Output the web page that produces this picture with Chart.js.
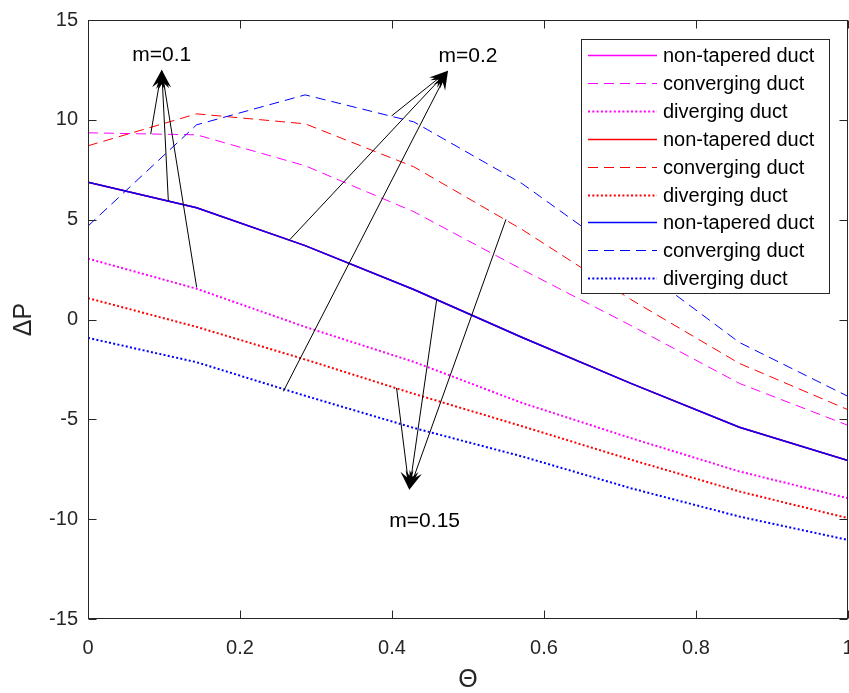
<!DOCTYPE html>
<html>
<head>
<meta charset="utf-8">
<script src="https://cdn.jsdelivr.net/npm/chart.js@4"></script>
<style>
html, body { margin: 0; padding: 0; background: #fff; }
#wrap { width: 849px; height: 693px; }
</style>
</head>
<body>
<div id="wrap"><canvas id="myChart"></canvas></div>
<script>
// x values (Theta) and y ticks
const theta = [0, 0.1429, 0.2857, 0.4286, 0.5714, 0.7143, 0.8571, 1];
const xTicks = [0, 0.2, 0.4, 0.6, 0.8, 1];
const yTicks = [-15, -10, -5, 0, 5, 10, 15];

// delta P, same for all m in the non-tapered case
const nonTapered = [6.88, 5.6, 3.7, 1.5, -0.9, -3.2, -5.4, -7.06];
// m = 0.1 (magenta), m = 0.15 (red), m = 0.2 (blue)
const convM01 = [9.35, 9.25, 7.7, 5.4, 2.5, -0.3, -3.2, -5.3];
const convM015 = [8.7, 10.3, 9.8, 7.65, 4.5, 1.0, -2.2, -4.52];
const convM02 = [4.68, 9.75, 11.25, 9.9, 6.8, 2.9, -1.15, -3.85];
const divM01 = [3.05, 1.54, -0.37, -2.12, -4.18, -5.94, -7.61, -8.95];
const divM015 = [1.07, -0.37, -2.0, -3.72, -5.35, -7.02, -8.61, -9.95];
const divM02 = [-0.92, -2.14, -3.82, -5.43, -6.86, -8.45, -9.87, -11.04];

// annotation arrows in data units: [label, labelX, labelY, tipX, tipY, tails]
const arrows = [
    ['m=0.1', 0.097, 13.25, 0.097, 12.51, [[0.0825, 9.28], [0.1057, 5.94], [0.143, 1.61]]],
    ['m=0.2', 0.50, 13.2, 0.4737, 12.46, [[0.3996, 10.2], [0.2658, 4.01], [0.257, -3.6]]],
    ['m=0.15', 0.443, -10.1, 0.4228, -8.53, [[0.406, -3.43], [0.4588, 1.0], [0.55, 5.02]]]
];

const magenta = '#ff00ff';
const red = '#ff0000';
const blue = '#0000ff';
const solid = [];
const dashed = [10, 6];
const dotted = [2, 2.3];

function pts(arr) {
    return arr.map((v, i) => ({ x: theta[i], y: v }));
}

function ds(label, arr, color, dash, width, order) {
    return {
        label: label,
        data: pts(arr),
        borderColor: color,
        backgroundColor: color,
        borderDash: dash,
        borderWidth: width,
        pointRadius: 0,
        tension: 0,
        order: order
    };
}

const datasets = [
    ds('non-tapered duct', nonTapered, magenta, solid, 1.5, 9),
    ds('converging duct', convM01, magenta, dashed, 1, 8),
    ds('diverging duct', divM01, magenta, dotted, 2, 7),
    ds('non-tapered duct', nonTapered, red, solid, 1.5, 6),
    ds('converging duct', convM015, red, dashed, 1, 5),
    ds('diverging duct', divM015, red, dotted, 2, 4),
    ds('non-tapered duct', nonTapered, blue, solid, 1.5, 3),
    ds('converging duct', convM02, blue, dashed, 1, 2),
    ds('diverging duct', divM02, blue, dotted, 2, 1)
];

const font = 'Liberation Sans, Arial, Helvetica, sans-serif';
const axisColor = '#262626';

function drawArrow(c, x1, y1, x2, y2) {
    const ang = Math.atan2(y2 - y1, x2 - x1);
    const ux = Math.cos(ang), uy = Math.sin(ang);
    const nx = -uy, ny = ux;
    const L = 19, W = 6.5, N = 12;
    c.beginPath();
    c.moveTo(x1, y1);
    c.lineTo(x2 - ux * N, y2 - uy * N);
    c.stroke();
    c.beginPath();
    c.moveTo(x2, y2);
    c.lineTo(x2 - ux * L + nx * W, y2 - uy * L + ny * W);
    c.lineTo(x2 - ux * N, y2 - uy * N);
    c.lineTo(x2 - ux * L - nx * W, y2 - uy * L - ny * W);
    c.closePath();
    c.fill();
}

const decor = {
    id: 'decor',
    afterDatasetsDraw(chart) {
        const c = chart.ctx;
        const xs = chart.scales.x, ys = chart.scales.y;
        const a = chart.chartArea;

        // arrows and m labels
        c.save();
        c.strokeStyle = '#000';
        c.fillStyle = '#000';
        c.lineWidth = 1;
        arrows.forEach(ar => {
            const tx = xs.getPixelForValue(ar[3]), ty = ys.getPixelForValue(ar[4]);
            ar[5].forEach(t => {
                drawArrow(c, xs.getPixelForValue(t[0]), ys.getPixelForValue(t[1]), tx, ty);
            });
            c.font = '21px ' + font;
            c.textAlign = 'center';
            c.textBaseline = 'middle';
            c.fillText(ar[0], xs.getPixelForValue(ar[1]), ys.getPixelForValue(ar[2]));
        });
        c.restore();

        // box and inward ticks
        c.save();
        c.strokeStyle = axisColor;
        c.lineWidth = 1;
        const L = Math.round(a.left) + 0.5, R = Math.round(a.right) - 0.5;
        const T = Math.round(a.top) + 0.5, B = Math.round(a.bottom) - 0.5;
        c.strokeRect(L, T, R - L, B - T);
        c.beginPath();
        xTicks.forEach(v => {
            const px = Math.round(xs.getPixelForValue(v)) + 0.5;
            c.moveTo(px, B); c.lineTo(px, B - 8);
            c.moveTo(px, T); c.lineTo(px, T + 8);
        });
        yTicks.forEach(v => {
            const py = Math.round(ys.getPixelForValue(v)) + 0.5;
            c.moveTo(L, py); c.lineTo(L + 8, py);
            c.moveTo(R, py); c.lineTo(R - 8, py);
        });
        c.stroke();

        // axis titles
        c.fillStyle = axisColor;
        c.font = '25px ' + font;
        c.textAlign = 'center';
        c.textBaseline = 'middle';
        c.fillText('\u0398', (a.left + a.right) / 2, 680);
        c.save();
        c.translate(24, (a.top + a.bottom) / 2);
        c.rotate(-Math.PI / 2);
        c.fillText('\u0394P', 0, 0);
        c.restore();
        c.restore();

        // legend
        c.save();
        const lx = 581, ly = 39, lw = 248, lh = 254;
        c.fillStyle = '#fff';
        c.fillRect(lx, ly, lw, lh);
        c.strokeStyle = axisColor;
        c.lineWidth = 1;
        c.strokeRect(lx + 0.5, ly + 0.5, lw, lh);
        c.font = '20px ' + font;
        c.textAlign = 'left';
        c.textBaseline = 'middle';
        chart.data.datasets.forEach((d, i) => {
            const y = Math.round(ly + 16 + i * 27.9) + 0.5;
            c.strokeStyle = d.borderColor;
            c.lineWidth = d.borderWidth;
            c.setLineDash(d.borderDash);
            c.beginPath();
            c.moveTo(588, y);
            c.lineTo(657, y);
            c.stroke();
            c.setLineDash([]);
            c.fillStyle = '#000';
            c.fillText(d.label, 663, y + 1);
        });
        c.restore();
    }
};

new Chart(document.getElementById('myChart'), {
    type: 'line',
    data: { datasets: datasets },
    options: {
        responsive: true,
        maintainAspectRatio: false,
        animation: false,
        layout: { padding: { top: 20, right: 1, left: 0, bottom: 0 } },
        plugins: {
            legend: { display: false },
            tooltip: { enabled: false }
        },
        scales: {
            x: {
                type: 'linear',
                min: 0,
                max: 1,
                afterFit: s => { s.height = 74; s.paddingLeft = 0; s.paddingRight = 0; },
                afterBuildTicks: s => { s.ticks = xTicks.map(v => ({ value: v })); },
                grid: { display: false, drawTicks: false },
                border: { display: false },
                ticks: {
                    padding: 17,
                    color: axisColor,
                    font: { size: 20, family: font },
                    callback: v => String(Number(v.toFixed(1))),
                    maxRotation: 0
                }
            },
            y: {
                type: 'linear',
                min: -15,
                max: 15,
                afterFit: s => { s.width = 88; s.paddingTop = 0; s.paddingBottom = 0; },
                afterBuildTicks: s => { s.ticks = yTicks.map(v => ({ value: v })); },
                grid: { display: false, drawTicks: false },
                border: { display: false },
                ticks: {
                    padding: 10,
                    color: axisColor,
                    font: { size: 20, family: font }
                }
            }
        }
    },
    plugins: [decor]
});
</script>
</body>
</html>
